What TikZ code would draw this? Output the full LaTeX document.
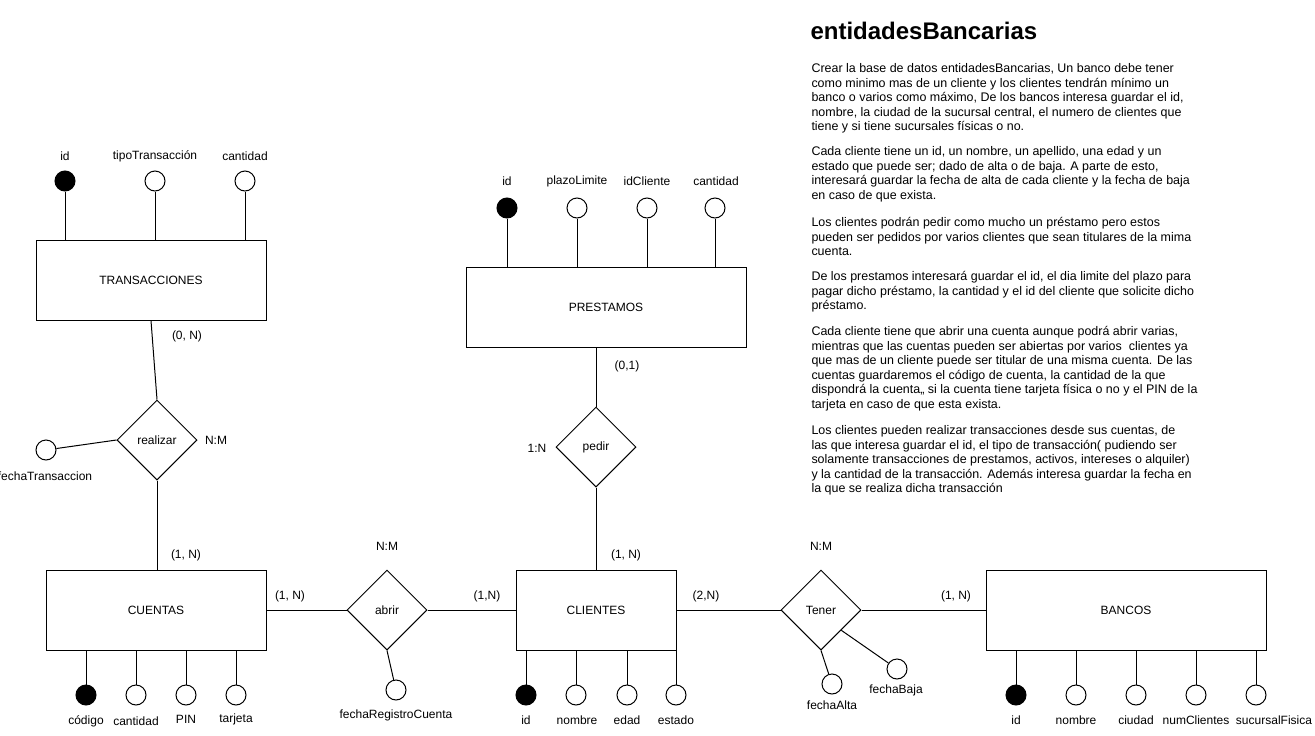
\documentclass[tikz,border=0pt]{standalone}
\usepackage{fontspec}
\setmainfont{Liberation Sans}
\usetikzlibrary{shapes.geometric}
\tikzset{
  every node/.style={font=\fontsize{9}{10.875}\selectfont},
  entity/.style={draw, rectangle, minimum height=60pt, inner sep=0pt},
  rel/.style={draw, diamond, minimum width=60pt, minimum height=60pt, inner sep=0pt},
  attr/.style={draw, circle, minimum size=15pt, inner sep=0pt, fill=white},
  keyattr/.style={attr, fill=black},
  lbl/.style={inner sep=0pt},
  para/.style={inner sep=0pt, anchor=north west, align=left, font=\fontsize{9.35}{10.875}\selectfont},
  conn/.style={line width=0.75pt},
}
\begin{document}
\begin{tikzpicture}[x=0.75pt, y=-0.75pt, line width=0.75pt]
\useasboundingbox (0,0) rectangle (1315,736);
\fill[white] (0,0) rectangle (1315,736);

% ---------- entities ----------
\node[entity, minimum width=172.5pt] (tr) at (151,280) {TRANSACCIONES};
\node[entity, minimum width=165pt] (cu) at (156,610) {CUENTAS};
\node[entity, minimum width=120pt] (cl) at (596,610) {CLIENTES};
\node[entity, minimum width=210pt] (ba) at (1126,610) {BANCOS};
\node[entity, minimum width=210pt] (pr) at (606,307) {PRESTAMOS};

% ---------- relationships ----------
\node[rel] (realizar) at (157,440) {realizar};
\node[rel] (abrir) at (387,610) {abrir};
\node[rel] (tener) at (821,610) {Tener};
\node[rel] (pedir) at (596,447) {pedir};

% ---------- relationship connectors ----------
\draw[conn] (tr.south) -- (realizar.north);
\draw[conn] (realizar.south) -- (realizar.south |- cu.north);
\draw[conn] (cu.east) -- (abrir.west);
\draw[conn] (abrir.east) -- (cl.west);
\draw[conn] (cl.east) -- (tener.west);
\draw[conn] (tener.east) -- (ba.west);
\draw[conn] (pr.south -| pedir.north) -- (pedir.north);
\draw[conn] (pedir.south) -- (pedir.south |- cl.north);

% ---------- TRANSACCIONES attributes ----------
\node[keyattr] (tid) at (65,181) {};
\node[attr] (ttipo) at (155,181) {};
\node[attr] (tcant) at (245,181) {};
\foreach \a in {tid,ttipo,tcant} \draw[conn] (\a) -- (\a |- tr.north);
\node[lbl] (ltid) at (65,156) {id};
\node[lbl] (lttipo) at (155,156) {tipoTransacción};
\node[lbl] (ltcant) at (245,156) {cantidad};

% ---------- PRESTAMOS attributes ----------
\node[keyattr] (pid) at (507,208) {};
\node[attr] (pplazo) at (577,208) {};
\node[attr] (pidc) at (647,208) {};
\node[attr] (pcant) at (715,208) {};
\foreach \a in {pid,pplazo,pidc,pcant} \draw[conn] (\a) -- (\a |- pr.north);
\node[lbl] (lpid) at (507,181) {id};
\node[lbl] (lpplazo) at (577,181) {plazoLimite};
\node[lbl] (lpidc) at (647,181) {idCliente};
\node[lbl] (lpcant) at (716,181) {cantidad};

% ---------- CUENTAS attributes ----------
\node[keyattr] (ccod) at (86,695) {};
\node[attr] (ccant) at (136,695) {};
\node[attr] (cpin) at (186,695) {};
\node[attr] (ctar) at (236,695) {};
\foreach \a in {ccod,ccant,cpin,ctar} \draw[conn] (\a) -- (\a |- cu.south);
\node[lbl] (lccod) at (86,721) {código};
\node[lbl] (lccant) at (136,721) {cantidad};
\node[lbl] (lcpin) at (186,719) {PIN};
\node[lbl] (lctar) at (236,719) {tarjeta};

% ---------- CLIENTES attributes ----------
\node[keyattr] (kid) at (526,695) {};
\node[attr] (knom) at (576,695) {};
\node[attr] (keda) at (627,695) {};
\node[attr] (kest) at (676,695) {};
\foreach \a in {kid,knom,keda,kest} \draw[conn] (\a) -- (\a |- cl.south);
\node[lbl] (lkid) at (526,720) {id};
\node[lbl] (lknom) at (577,720) {nombre};
\node[lbl] (lkeda) at (627,720) {edad};
\node[lbl] (lkest) at (676,720) {estado};

% ---------- BANCOS attributes ----------
\node[keyattr] (bid) at (1016,695) {};
\node[attr] (bnom) at (1076,695) {};
\node[attr] (bciu) at (1136,695) {};
\node[attr] (bnum) at (1196,695) {};
\node[attr] (bsuc) at (1256,695) {};
\foreach \a in {bid,bnom,bciu,bnum,bsuc} \draw[conn] (\a) -- (\a |- ba.south);
\node[lbl] (lbid) at (1016,720) {id};
\node[lbl] (lbnom) at (1076,720) {nombre};
\node[lbl] (lbciu) at (1136,720) {ciudad};
\node[lbl] (lbnum) at (1196,720) {numClientes};
\node[lbl] (lbsuc) at (1274,720) {sucursalFisica};

% ---------- relationship attributes ----------
\node[attr] (ft) at (46,450) {};
\draw[conn] (ft) -- (realizar.west);
\node[lbl] (lft) at (45,476) {fechaTransaccion};

\node[attr] (frc) at (396,690) {};
\draw[conn] (abrir.south) -- (frc);
\node[lbl] (lfrc) at (396,715) {fechaRegistroCuenta};

\node[attr] (falta) at (832,684) {};
\draw[conn] (tener.south) -- (falta);
\node[lbl] (lfalta) at (832,705) {fechaAlta};

\node[attr] (fbaja) at (897,669) {};
\draw[conn] (tener.south east) -- (fbaja);
\node[lbl] (lfbaja) at (896,690) {fechaBaja};

% ---------- cardinalities ----------
\node[lbl] (c1) at (187,336) {(0, N)};
\node[lbl] (c2) at (216,440) {N:M};
\node[lbl] (c3) at (186,555) {(1, N)};
\node[lbl] (c4) at (290,596) {(1, N)};
\node[lbl] (c5) at (387,546) {N:M};
\node[lbl] (c6) at (487,596) {(1,N)};
\node[lbl] (c7) at (626,555) {(1, N)};
\node[lbl] (c8) at (706,596) {(2,N)};
\node[lbl] (c9) at (821,546) {N:M};
\node[lbl] (c10) at (956,596) {(1, N)};
\node[lbl] (c11) at (627,366) {(0,1)};
\node[lbl] (c12) at (537,448) {1:N};

% ---------- description ----------
\node[inner sep=0pt, anchor=west, font=\fontsize{18}{21}\selectfont\bfseries] (title) at (810,31) {entidadesBancarias};

\node[para] (p1) at (811,63) {Crear la base de datos entidadesBancarias, Un banco debe tener\\
como minimo mas de un cliente y los clientes tendrán mínimo un\\
banco o varios como máximo, De los bancos interesa guardar el id,\\
nombre, la ciudad de la sucursal central, el numero de clientes que\\
tiene y si tiene sucursales físicas o no.};

\node[para] (p2) at (811,146) {Cada cliente tiene un id, un nombre, un apellido, una edad y un\\
estado que puede ser; dado de alta o de baja. A parte de esto,\\
interesará guardar la fecha de alta de cada cliente y la fecha de baja\\
en caso de que exista.};

\node[para] (p3) at (811,217) {Los clientes podrán pedir como mucho un préstamo pero estos\\
pueden ser pedidos por varios clientes que sean titulares de la mima\\
cuenta.};

\node[para] (p4) at (811,271) {De los prestamos interesará guardar el id, el dia limite del plazo para\\
pagar dicho préstamo, la cantidad y el id del cliente que solicite dicho\\
préstamo.};

\node[para] (p5) at (811,326) {Cada cliente tiene que abrir una cuenta aunque podrá abrir varias,\\
mientras que las cuentas pueden ser abiertas por varios\ \ clientes ya\\
que mas de un cliente puede ser titular de una misma cuenta. De las\\
cuentas guardaremos el código de cuenta, la cantidad de la que\\
dispondrá la cuenta,, si la cuenta tiene tarjeta física o no y el PIN de la\\
tarjeta en caso de que esta exista.};

\node[para] (p6) at (811,425) {Los clientes pueden realizar transacciones desde sus cuentas, de\\
las que interesa guardar el id, el tipo de transacción( pudiendo ser\\
solamente transacciones de prestamos, activos, intereses o alquiler)\\
y la cantidad de la transacción. Además interesa guardar la fecha en\\
la que se realiza dicha transacción};
\end{tikzpicture}
\end{document}
